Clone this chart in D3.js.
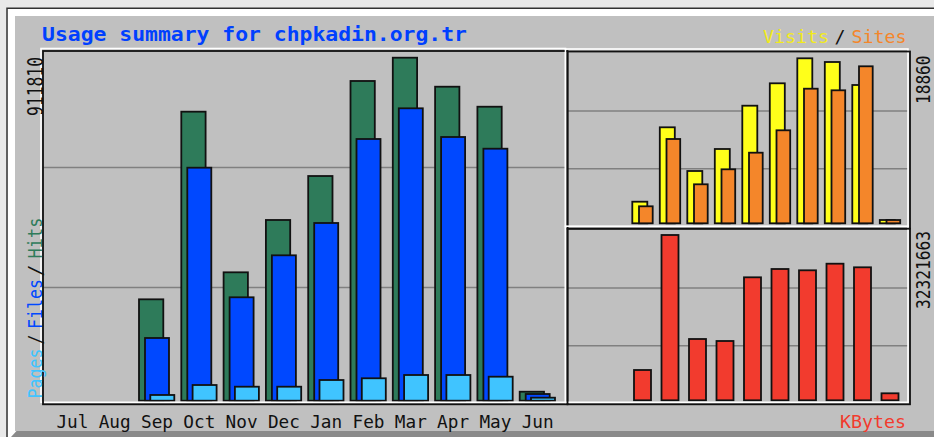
<!DOCTYPE html>
<html>
<head>
<meta charset="utf-8">
<script src="https://cdn.jsdelivr.net/npm/d3@7"></script>
<style>
body { margin: 0; background: #e9e9e9; }
svg { display: block; }
</style>
</head>
<body>
<div id="chart"></div>
<script>
let months = ["Jul", "Aug", "Sep", "Oct", "Nov", "Dec", "Jan", "Feb", "Mar", "Apr", "May", "Jun"]
let hits = [0, 0, 269500, 768300, 341300, 480400, 597300, 849900, 911810, 834700, 781500, 23900]
let files = [0, 0, 166700, 619400, 274900, 386500, 472400, 695700, 777300, 701000, 669900, 17800]
let pages = [0, 0, 15200, 41700, 37200, 37200, 55000, 59600, 68300, 68300, 63800, 8000]
let visits = [0, 0, 2469, 10973, 5978, 8493, 13442, 16003, 18860, 18437, 15808, 377]
let sites = [0, 0, 1943, 9636, 4458, 6172, 8070, 10630, 15385, 15202, 17946, 377]
let kbytes = [0, 0, 5924600, 32321663, 11986000, 11595000, 24050000, 25673000, 25419000, 26710000, 26006000, 1369000]
let gridFractions = [0.33, 0.68]

let font = "'DejaVu Sans Mono', monospace"

let svg = d3.select("#chart")
    .append("svg")
    .attr("width", 934)
    .attr("height", 437)

// outer frame
svg.append("rect").attr("x", 0).attr("y", 0).attr("width", 934).attr("height", 437).attr("fill", "#e9e9e9")
svg.append("rect").attr("x", 8).attr("y", 9).attr("width", 926).attr("height", 428).attr("fill", "#ffffff")
svg.append("rect").attr("x", 15).attr("y", 16).attr("width", 919).attr("height", 415).attr("fill", "#c0c0c0")
svg.append("polygon").attr("points", "11,437 16.5,431 934,431 934,437").attr("fill", "#8a8a8a")
svg.append("path").attr("d", "M7,437 V8.3 H934").attr("fill", "none").attr("stroke", "#333").attr("stroke-width", 1.5)

// scales
let xMain = d3.scaleBand().domain(months).range([54.4, 54.4 + 12 * 42.3])
let xRight = d3.scaleBand().domain(months).range([577.3, 577.3 + 12 * 27.5])
let yMain = d3.scaleLinear().domain([0, d3.max(hits)]).range([400.7, 57.7])
let yVis = d3.scaleLinear().domain([0, d3.max(visits)]).range([223.3, 58.3])
let yKb = d3.scaleLinear().domain([0, d3.max(kbytes)]).range([400.3, 235])

// grid lines
let grid = svg.append("g").attr("stroke", "#808080").attr("stroke-width", 1.5)
gridFractions.forEach(f => {
    grid.append("line").attr("x1", 43).attr("x2", 565).attr("y1", yMain(f * d3.max(hits))).attr("y2", yMain(f * d3.max(hits)))
    grid.append("line").attr("x1", 567).attr("x2", 908).attr("y1", yVis(f * d3.max(visits))).attr("y2", yVis(f * d3.max(visits)))
    grid.append("line").attr("x1", 567).attr("x2", 908).attr("y1", yKb(f * d3.max(kbytes))).attr("y2", yKb(f * d3.max(kbytes)))
})

function drawBars(values, xScale, yScale, offset, width, color) {
    let data = months.map((m, i) => ({ m: m, v: values[i] })).filter(d => d.v > 0)
    svg.append("g")
        .selectAll("rect")
        .data(data)
        .enter()
        .append("rect")
        .attr("x", d => xScale(d.m) + offset)
        .attr("y", d => yScale(d.v))
        .attr("width", width)
        .attr("height", d => yScale(0) - yScale(d.v))
        .attr("fill", color)
        .attr("stroke", "#111")
        .attr("stroke-width", 1.8)
}

drawBars(hits, xMain, yMain, 0, 24.3, "#2e7b5a")
drawBars(files, xMain, yMain, 6, 24, "#0048ff")
drawBars(pages, xMain, yMain, 11.3, 24, "#40c4ff")
drawBars(visits, xRight, yVis, 0, 15, "#ffff1a")
drawBars(sites, xRight, yVis, 6.7, 13.7, "#f4862a")
drawBars(kbytes, xRight, yKb, 1.7, 17, "#f23b2e")

// 3d panel boxes
function panel(x0, y0, x1, y1) {
    svg.append("rect").attr("x", x0 - 2).attr("y", y0 - 2.5).attr("width", x1 - x0).attr("height", y1 - y0 + 0.5)
        .attr("fill", "none").attr("stroke", "#ffffff").attr("stroke-width", 1.6)
    svg.append("rect").attr("x", x0).attr("y", y0).attr("width", x1 - x0).attr("height", y1 - y0)
        .attr("fill", "none").attr("stroke", "#111").attr("stroke-width", 1.8)
}
panel(43, 51, 567.5, 404.3)
panel(567.5, 51.5, 910, 228.7)
panel(567.5, 228.7, 910, 404.3)

// texts
svg.append("text").attr("x", 42).attr("y", 40.7)
    .attr("textLength", 425).attr("lengthAdjust", "spacingAndGlyphs")
    .style("font-family", font).style("font-size", "19px").style("font-weight", "bold")
    .attr("fill", "#0040ff")
    .text("Usage summary for chpkadin.org.tr")

for (let m of months) {
    svg.append("text").attr("x", xMain(m) + 18).attr("y", 428)
        .attr("text-anchor", "middle")
        .attr("textLength", 32).attr("lengthAdjust", "spacingAndGlyphs")
        .style("font-family", font).style("font-size", "17.5px")
        .attr("fill", "#111")
        .text(m)
}

let legendTop = [
    ["Visits", 763, 66, "#f2ea1c"],
    ["/", 834.5, 11, "#111"],
    ["Sites", 851.5, 55, "#f4862a"]
]
for (let t of legendTop) {
    svg.append("text").attr("x", t[1]).attr("y", 43.3)
        .attr("textLength", t[2]).attr("lengthAdjust", "spacingAndGlyphs")
        .style("font-family", font).style("font-size", "17.5px")
        .attr("fill", t[3]).text(t[0])
}

svg.append("text").attr("x", 840).attr("y", 428.3)
    .attr("textLength", 66).attr("lengthAdjust", "spacingAndGlyphs")
    .style("font-family", font).style("font-size", "17.5px")
    .attr("fill", "#f23b2e").text("KBytes")

function upText(str, x, y, len, color, size) {
    svg.append("text")
        .attr("transform", "translate(" + x + "," + y + ") rotate(-90)")
        .attr("textLength", len).attr("lengthAdjust", "spacingAndGlyphs")
        .style("font-family", font).style("font-size", size + "px")
        .attr("fill", color).text(str)
}

let legendSide = [
    ["Pages", 398.5, 50, "#40c4ff"],
    ["/", 344.5, 10, "#111"],
    ["Files", 329, 50, "#0048ff"],
    ["/", 276.5, 12, "#111"],
    ["Hits", 258.5, 41, "#2e7b5a"]
]
for (let t of legendSide) {
    upText(t[0], 41.5, t[1], t[2], t[3], 20)
}

upText(String(d3.max(hits)), 42.7, 116, 59, "#111", 22)
upText(String(d3.max(visits)), 929.5, 104, 48.5, "#111", 19)
upText(String(d3.max(kbytes)), 929.5, 309, 78, "#111", 19)
</script>
</body>
</html>
